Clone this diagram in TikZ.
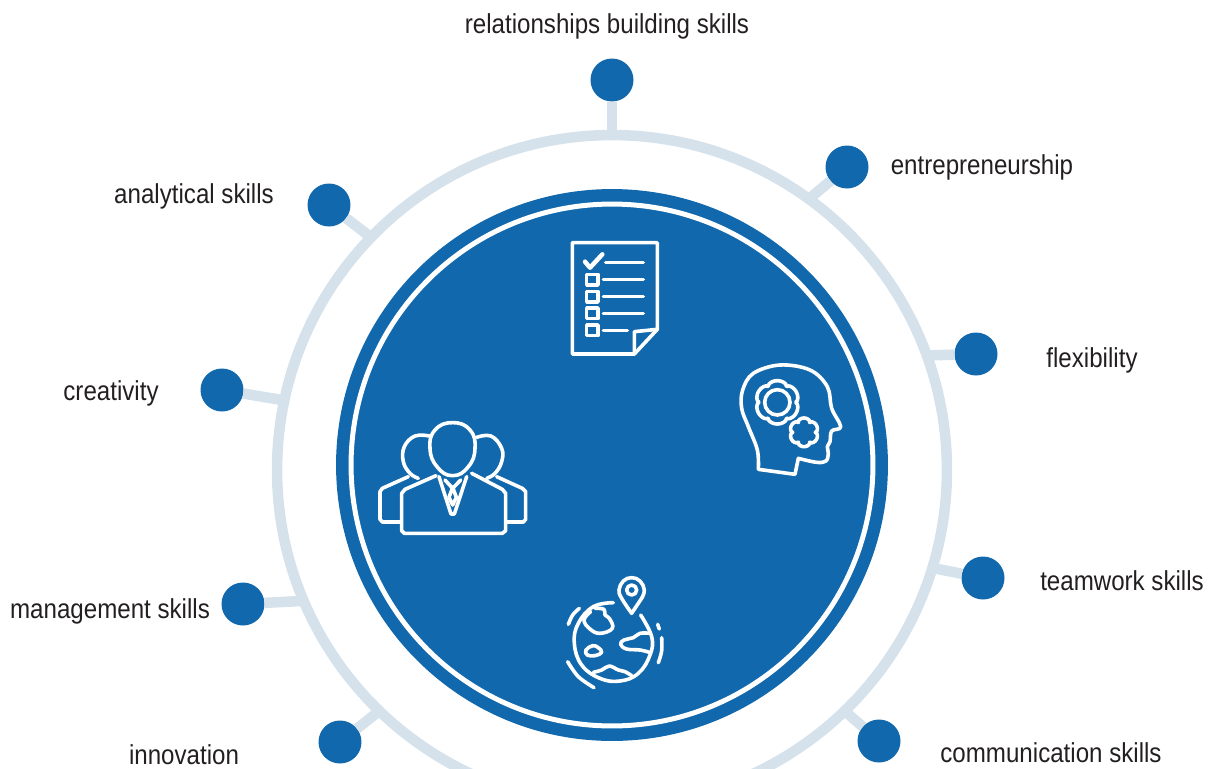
\documentclass[tikz,border=0pt]{standalone}
\usepackage{fontspec}
\setmainfont[FakeStretch=0.88]{Liberation Sans}
\usepackage{xcolor}
\definecolor{skillblue}{HTML}{1268AC}
\definecolor{ringgrey}{HTML}{D5E2EB}
\definecolor{labelink}{HTML}{231F20}

\begin{document}
\begin{tikzpicture}[
    x=0.02cm, y=-0.02cm,
    ring/.style={circle, draw=ringgrey, line width=0.21cm, minimum size=13.4cm, outer sep=0pt, inner sep=0pt},
    disc/.style={circle, fill=skillblue, minimum size=11.04cm, outer sep=0pt, inner sep=0pt},
    innerring/.style={circle, draw=white, line width=0.1cm, minimum size=10.44cm, outer sep=0pt, inner sep=0pt},
    dot/.style={circle, fill=skillblue, minimum size=0.86cm, outer sep=0pt, inner sep=0pt},
    skill/.style={font=\fontsize{15.6pt}{18pt}\selectfont, text=labelink, inner sep=0pt, anchor=center},
    spoke/.style={draw=ringgrey, line width=0.21cm},
    icon/.style={draw=white, line width=0.072cm, line cap=round, line join=round},
]
    \clip (0,0) rectangle (1214,768);
    \useasboundingbox (0,0) rectangle (1214,768);

    \node[ring] (ringo) at (612,470) {};
    \node[disc] (disc) at (612,465) {};
    \node[innerring] (ringi) at (612,465) {};

    \node[dot] (relations) at (612,80) {};
    \node[dot] (entre) at (847,167) {};
    \node[dot] (flex) at (976,354) {};
    \node[dot] (team) at (983,578) {};
    \node[dot] (comm) at (879,741) {};
    \node[dot] (innov) at (340,742) {};
    \node[dot] (manage) at (243,604) {};
    \node[dot] (creat) at (222,390) {};
    \node[dot] (analyt) at (329,205) {};

    \foreach \d/\a in {relations/90,entre/54.4,flex/20.3,team/343.4,comm/314.4,innov/226,manage/203.4,creat/168.1,analyt/136.4}
        \draw[spoke] (\d) -- (ringo.\a);

    \node[skill] (tr) at (607,26) {relationships building skills};
    \node[skill] (te) at (982,167) {entrepreneurship};
    \node[skill] (tf) at (1092,360) {flexibility};
    \node[skill] (tt) at (1122,581) {teamwork skills};
    \node[skill] (tc) at (1051,753) {communication skills};
    \node[skill] (ti) at (184,755) {innovation};
    \node[skill] (tm) at (110,611) {management skills};
    \node[skill] (tk) at (111,393) {creativity};
    \node[skill] (ta) at (194,196) {analytical skills};

    % checklist
    \begin{scope}[shift={(540,220)}, scale=1/3]
        \draw[icon] (97,68) -- (352,68) -- (352,328) -- (283,402) -- (97,402) -- cycle;
        \draw[icon] (352,328) -- (283,335) -- (283,402);
        \draw[icon, line width=0.09cm] (135,125) -- (150,143) -- (187,103);
        \draw[icon] (197,128) -- (310,128);
        \foreach \y/\e in {179/310,230/310,280/310,331/262} {
            \draw[icon] (140,\y-16) rectangle (174,\y+16);
            \draw[icon] (190,\y) -- (\e,\y);
        }
    \end{scope}

    % head with gears
    \begin{scope}[shift={(720,345)}, scale=1/3]
        \draw[icon] plot[smooth, tension=0.6] coordinates {(115,373) (112,315) (85,245) (65,190) (68,135) (100,85) (180,60) (270,75) (322,125) (335,190) (362,245) (335,258) (330,290) (322,305) (325,325) (318,348) (290,352) (235,340)}
            -- (225,388) -- cycle;
        \draw[icon] plot[smooth cycle, samples=72, domain=0:355] ({172+(55+10*sqrt(abs(cos(3*(\x-90)))))*cos(\x)}, {172-(55+10*sqrt(abs(cos(3*(\x-90)))))*sin(\x)});
        \draw[icon] (172,172) circle (38);
        \draw[icon] plot[smooth cycle, samples=72, domain=0:355] ({252+(34+9*sqrt(abs(cos(3*(\x-90)))))*cos(\x)}, {262-(34+9*sqrt(abs(cos(3*(\x-90)))))*sin(\x)});
    \end{scope}

    % people
    \begin{scope}[shift={(365,410)}, scale=1/3]
        \draw[icon] plot[smooth cycle, tension=0.8] coordinates {(263,38) (315,60) (330,115) (310,170) (263,197) (216,170) (195,115) (210,60)};
        \draw[icon] (213,197) -- (120,238) -- (110,250) -- (110,362) -- (118,370) -- (412,370) -- (422,362) -- (422,250) -- (412,238) -- (320,190);
        \draw[icon] (222,200) -- (258,312) -- (268,312) -- (305,200);
        \draw[icon] (240,210) -- (263,235) -- (287,210);
        \draw[icon] (263,232) -- (252,262) -- (263,285) -- (274,262) -- cycle;
        \draw[icon] plot[smooth, tension=0.7] coordinates {(193,78) (150,78) (118,110) (115,155) (135,190) (160,205)};
        \draw[icon] (130,200) -- (52,235) -- (45,245) -- (45,328) -- (52,336) -- (105,336);
        \draw[icon] plot[smooth, tension=0.7] coordinates {(335,82) (378,78) (410,115) (410,155) (390,190) (365,205)};
        \draw[icon] (395,200) -- (472,235) -- (482,245) -- (482,328) -- (475,336) -- (425,336);
    \end{scope}

    % globe with pin
    \begin{scope}[shift={(550,565)}, scale=1/3]
        \draw[icon] plot[smooth, tension=0.7] coordinates {(190,113) (130,125) (85,175) (73,235) (95,300) (150,340) (210,348) (265,325) (300,270) (305,215) (272,150)};
        \draw[icon] plot[smooth, tension=0.7] coordinates {(245,145) (215,100) (207,75) (220,48) (245,38) (270,48) (283,75) (275,100)} -- cycle;
        \draw[icon] (245,75) circle (15);
        \draw[icon] plot[smooth, tension=0.7] coordinates {(122,140) (102,165) (120,192) (150,205) (187,190) (178,160) (165,150) (162,133) (135,130)};
        \draw[icon] plot[smooth, tension=0.7] coordinates {(300,205) (270,205) (250,218) (222,225) (212,238) (230,252) (270,255) (298,262)};
        \draw[icon] plot[smooth cycle, tension=0.7] coordinates {(128,242) (108,255) (112,270) (135,272) (155,262) (145,248)};
        \draw[icon] plot[smooth, tension=0.6] coordinates {(130,322) (155,315) (178,303) (205,315) (225,320) (245,332)};
        \draw[icon] plot[smooth, tension=0.6] coordinates {(55,178) (68,150) (88,130)};
        \draw[icon] plot[smooth, tension=0.6] coordinates {(53,290) (85,335) (132,368)};
        \draw[icon] (323,178) -- (328,192);
        \draw[icon] plot[smooth, tension=0.6] coordinates {(335,218) (335,258) (325,293)};
    \end{scope}
\end{tikzpicture}
\end{document}
